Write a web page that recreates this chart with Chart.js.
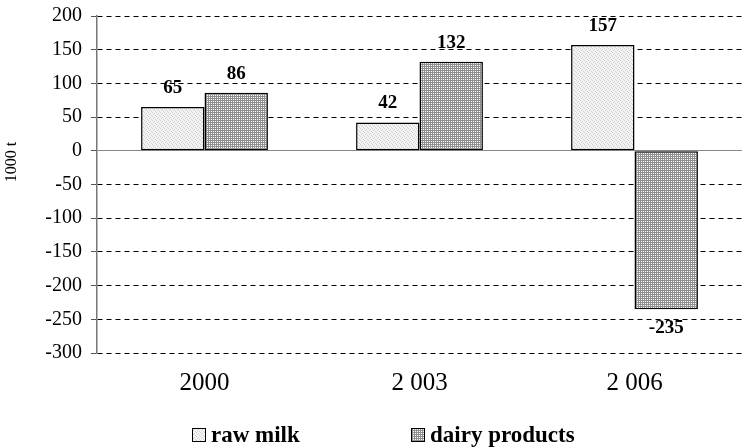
<!DOCTYPE html>
<html>
<head>
<meta charset="utf-8">
<script src="https://cdn.jsdelivr.net/npm/chart.js@4"></script>
<style>
  html, body { margin: 0; padding: 0; background: #fff; }
  #wrap { width: 742px; height: 447px; }
</style>
</head>
<body>
<div id="wrap"><canvas id="barChart" width="742" height="447"></canvas></div>
<script>
const years = ['2000', '2 003', '2 006'];
const rawMilk = [65, 42, 157];
const dairyProducts = [86, 132, -235];
const yTicks = [200, 150, 100, 50, 0, -50, -100, -150, -200, -250, -300];
const yTitle = '1000 t';

// little fill patterns like the old office chart
function makePattern(kind) {
    const c = document.createElement('canvas');
    c.width = 4; c.height = 4;
    const g = c.getContext('2d');
    g.fillStyle = '#ffffff';
    g.fillRect(0, 0, 4, 4);
    if (kind === 'dots') {
        g.fillStyle = '#f4f4f4';
        g.fillRect(0, 0, 4, 4);
        g.fillStyle = '#cfcfcf';
        g.fillRect(0, 0, 1, 1);
        g.fillRect(2, 1, 1, 1);
        g.fillRect(1, 2, 1, 1);
        g.fillRect(3, 3, 1, 1);
    } else {
        g.fillStyle = '#8f8f8f';
        g.fillRect(0, 0, 4, 1);
        g.fillRect(0, 2, 4, 1);
        g.fillRect(0, 0, 1, 4);
        g.fillRect(2, 0, 1, 4);
    }
    return g.createPattern(c, 'repeat');
}

const serif = '"Liberation Serif", "Times New Roman", serif';

const valueLabels = {
    id: 'valueLabels',
    afterDatasetsDraw(chart) {
        const ctx = chart.ctx;
        ctx.save();
        ctx.font = 'bold 19px ' + serif;
        ctx.fillStyle = '#000';
        ctx.textAlign = 'center';
        ctx.textBaseline = 'middle';
        chart.data.datasets.forEach((ds, i) => {
            chart.getDatasetMeta(i).data.forEach((bar, j) => {
                const v = ds.data[j];
                const y = v >= 0 ? bar.y - 19 : bar.y + 19;
                ctx.fillText(String(v), bar.x, y);
            });
        });
        ctx.restore();
    }
};

// legend + axis title drawn by hand so they sit like the original
const extras = {
    id: 'extras',
    afterDraw(chart) {
        const ctx = chart.ctx;
        const xs = [192, 411];
        const y = 435;
        ctx.save();
        ctx.font = 'bold 23px ' + serif;
        ctx.textBaseline = 'middle';
        ctx.textAlign = 'left';
        chart.data.datasets.forEach((ds, i) => {
            ctx.fillStyle = ds.backgroundColor;
            ctx.fillRect(xs[i], y - 7, 14, 14);
            ctx.strokeStyle = '#000';
            ctx.lineWidth = 1;
            ctx.strokeRect(xs[i] + 0.5, y - 6.5, 13, 13);
            ctx.fillStyle = '#000';
            ctx.fillText(ds.label, xs[i] + 19, y + 1);
        });
        ctx.restore();

        ctx.save();
        ctx.translate(12, 162);
        ctx.rotate(-Math.PI / 2);
        ctx.font = '16px ' + serif;
        ctx.fillStyle = '#000';
        ctx.textAlign = 'center';
        ctx.textBaseline = 'middle';
        ctx.fillText(yTitle, 0, 0);
        ctx.restore();
    }
};

const ctx = document.getElementById('barChart').getContext('2d');
const barChart = new Chart(ctx, {
    type: 'bar',
    data: {
        labels: years,
        datasets: [{
            label: 'raw milk',
            data: rawMilk,
            backgroundColor: makePattern('dots'),
            borderColor: '#000',
            borderWidth: 1.5,
            borderSkipped: false,
        }, {
            label: 'dairy products',
            data: dairyProducts,
            backgroundColor: makePattern('grid'),
            borderColor: '#000',
            borderWidth: 1.5,
            borderSkipped: false,
        }],
    },
    options: {
        responsive: false,
        animation: false,
        events: [],
        layout: { padding: { top: 16, right: 0, left: 0, bottom: 0 } },
        datasets: { bar: { categoryPercentage: 0.59, barPercentage: 1 } },
        plugins: {
            tooltip: { enabled: false },
            legend: { display: false },
        },
        scales: {
            x: {
                afterFit(scale) { scale.height = 94; },
                grid: { display: false, drawTicks: false },
                border: { display: false },
                ticks: {
                    font: { family: serif, size: 25 },
                    color: '#000',
                    padding: 15,
                },
            },
            y: {
                min: -300,
                max: 200,
                afterBuildTicks(scale) {
                    scale.ticks = yTicks.map(v => ({ value: v }));
                },
                afterFit(scale) {
                    scale.width = 97;
                    scale.paddingTop = 0;
                    scale.paddingBottom = 0;
                },
                grid: {
                    color: ctx => ctx.tick && ctx.tick.value === 0 ? '#888' : '#000',
                    lineWidth: 1,
                    tickLength: 6,
                    tickColor: '#555',
                    tickBorderDash: [0, 0],
                },
                border: { display: true, color: '#777', width: 1.5, dash: ctx => ctx.tick && ctx.tick.value === 0 ? [] : [5, 4] },
                ticks: {
                    autoSkip: false,
                    font: { family: serif, size: 20 },
                    color: '#000',
                    padding: 9,
                },
            },
        },
    },
    plugins: [valueLabels, extras],
});
</script>
</body>
</html>
